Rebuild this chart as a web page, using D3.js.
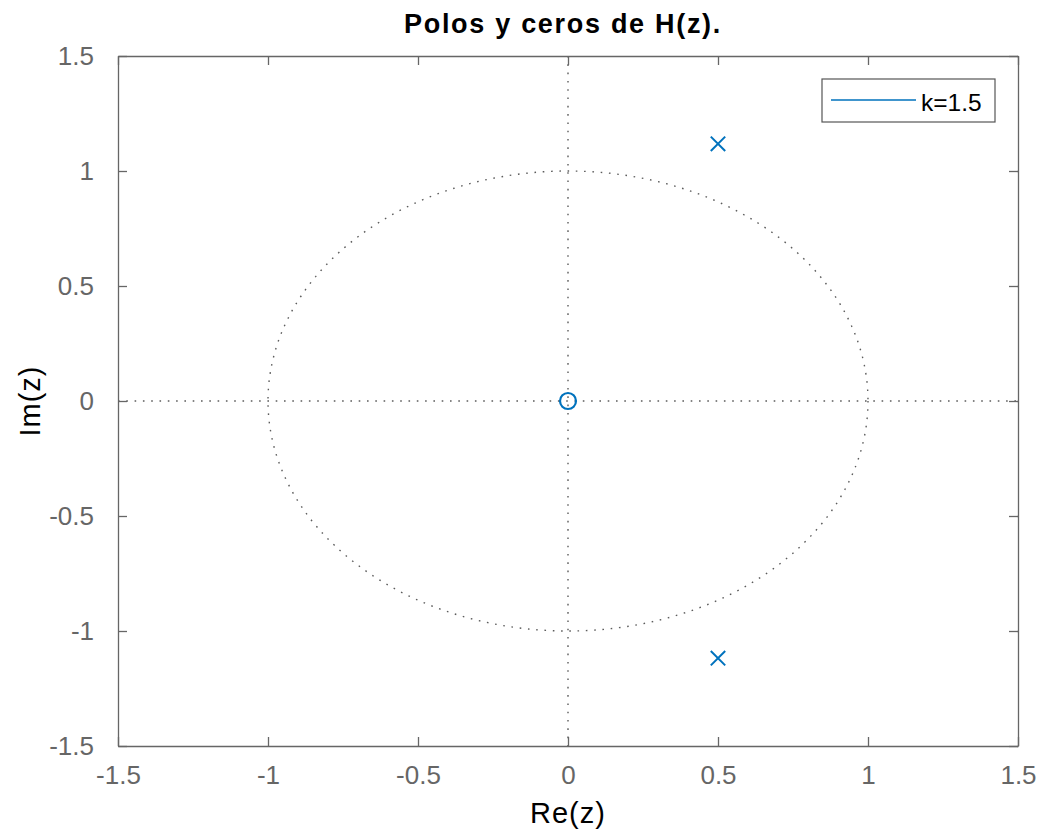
<!DOCTYPE html>
<html><head><meta charset="utf-8">
<script src="https://cdn.jsdelivr.net/npm/d3@7"></script>
<style>
body{margin:0;background:#fff;}
svg{display:block;font-family:"Liberation Sans",Arial,Helvetica,sans-serif;}
</style></head>
<body>
<svg id="c" width="1043" height="835"></svg>
<script>
// ---- data ----
const titleText = "Polos y ceros de H(z).";
const xLabel = "Re(z)";
const yLabel = "Im(z)";
const legendLabels = ["k=1.5"];
const tickValues = [-1.5, -1, -0.5, 0, 0.5, 1, 1.5];
const tickLabels = ["-1.5", "-1", "-0.5", "0", "0.5", "1", "1.5"];
const zerosRe = [0];
const zerosIm = [0];
const polesRe = [0.5, 0.5];
const polesIm = [1.118, -1.118];
const unitRadius = 1;
const domainMin = -1.5, domainMax = 1.5;

// ---- layout ----
const L = 118, R = 1018, T = 56, B = 746;
const blue = "#0072BD";
const axisCol = "#666666";
const svg = d3.select("#c");
const x = d3.scaleLinear().domain([domainMin, domainMax]).range([L, R]);
const y = d3.scaleLinear().domain([domainMin, domainMax]).range([B, T]);
const fmt = d => tickLabels[tickValues.indexOf(d)];

// dotted reference lines
const ref = svg.append("g").attr("fill", "none").attr("stroke", "#5c5c5c")
  .attr("stroke-width", 1.4).attr("stroke-dasharray", "1.6,6.7");
ref.append("ellipse").attr("cx", x(0)).attr("cy", y(0))
  .attr("rx", x(unitRadius) - x(0)).attr("ry", y(0) - y(unitRadius));
ref.append("line").attr("x1", x(0)).attr("x2", x(0)).attr("y1", y(domainMax)).attr("y2", y(domainMin));
ref.append("line").attr("x1", x(domainMin)).attr("x2", x(domainMax)).attr("y1", y(0)).attr("y2", y(0));

// axes
function styleAxis(g, showText) {
  g.selectAll(".domain").attr("stroke", axisCol).attr("stroke-width", 1.3);
  g.selectAll(".tick line").attr("stroke", axisCol).attr("stroke-width", 1.3);
  g.selectAll(".tick text").attr("fill", "#666666").style("font-size", "26px")
    .style("font-family", "'Liberation Sans',Arial,sans-serif");
  if (!showText) g.selectAll(".tick text").remove();
}
const xb = svg.append("g").attr("transform", `translate(0,${B})`)
  .call(d3.axisBottom(x).tickValues(tickValues).tickFormat(fmt).tickSizeInner(-9).tickSizeOuter(0).tickPadding(20));
styleAxis(xb, true);
const xt = svg.append("g").attr("transform", `translate(0,${T})`)
  .call(d3.axisTop(x).tickValues(tickValues).tickSizeInner(-9).tickSizeOuter(0));
styleAxis(xt, false);
const yl = svg.append("g").attr("transform", `translate(${L},0)`)
  .call(d3.axisLeft(y).tickValues(tickValues).tickFormat(fmt).tickSizeInner(-9).tickSizeOuter(0).tickPadding(24));
styleAxis(yl, true);
const yr = svg.append("g").attr("transform", `translate(${R},0)`)
  .call(d3.axisRight(y).tickValues(tickValues).tickSizeInner(-9).tickSizeOuter(0));
styleAxis(yr, false);

// zeros
svg.append("g").selectAll("circle").data(zerosRe.map((r, i) => [r, zerosIm[i]])).join("circle")
  .attr("cx", d => x(d[0])).attr("cy", d => y(d[1])).attr("r", 8)
  .attr("fill", "none").attr("stroke", blue).attr("stroke-width", 2.2);
// poles
const s = 7.2;
svg.append("g").selectAll("path").data(polesRe.map((r, i) => [r, polesIm[i]])).join("path")
  .attr("d", d => { const cx = x(d[0]), cy = y(d[1]);
    return `M${cx - s},${cy - s}L${cx + s},${cy + s}M${cx - s},${cy + s}L${cx + s},${cy - s}`; })
  .attr("fill", "none").attr("stroke", blue).attr("stroke-width", 2);

// title & labels
svg.append("text").attr("x", 563).attr("y", 33).attr("text-anchor", "middle")
  .style("font-size", "27px").style("font-weight", "bold").style("letter-spacing", "1.7px")
  .attr("fill", "#000").text(titleText);
svg.append("text").attr("x", 568).attr("y", 823).attr("text-anchor", "middle")
  .style("font-size", "29px").style("letter-spacing", "1px").attr("fill", "#000").text(xLabel);
svg.append("text").attr("transform", `translate(40,${y(0)}) rotate(-90)`).attr("text-anchor", "middle")
  .style("font-size", "29px").style("letter-spacing", "1px").attr("fill", "#000").text(yLabel);

// legend
const lg = svg.append("g");
lg.append("rect").attr("x", 822).attr("y", 79).attr("width", 173).attr("height", 43)
  .attr("fill", "#fff").attr("stroke", "#555").attr("stroke-width", 1.2);
legendLabels.forEach((lab, i) => {
  lg.append("line").attr("x1", 831).attr("x2", 916).attr("y1", 100 + i * 30).attr("y2", 100 + i * 30)
    .attr("stroke", blue).attr("stroke-width", 1.3);
  lg.append("text").attr("x", 921).attr("y", 110.5 + i * 30).style("font-size", "24.5px")
    .attr("fill", "#000").text(lab);
});
</script>
</body></html>
